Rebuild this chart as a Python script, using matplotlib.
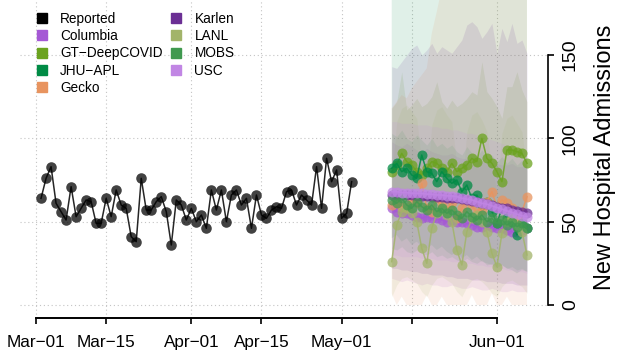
import numpy as np
import pandas as pd
import matplotlib
matplotlib.use("Agg")
import matplotlib.pyplot as plt
import matplotlib.dates as mdates
from matplotlib.lines import Line2D

plt.rcParams['font.family'] = ['Liberation Sans', 'DejaVu Sans']

# reported daily admissions, Mar 02 - May 03
reported_start = '2021-03-02'
reported = [64, 76, 83, 61, 56, 51, 71, 53, 58, 63, 62, 49, 49, 64, 53, 69,
            60, 58, 41, 38, 76, 57, 57, 62, 65, 56, 36, 63, 60, 51, 58, 50,
            54, 46, 69, 57, 69, 50, 66, 69, 60, 64, 46, 66, 54, 52, 57, 59,
            58, 68, 69, 60, 66, 63, 60, 83, 58, 88, 74, 81, 52, 55, 74]

# 28 day forecasts starting May 11
forecast_start = '2021-05-11'
models = ['Columbia', 'GT\u2212DeepCOVID', 'JHU\u2212APL', 'Gecko',
          'Karlen', 'LANL', 'MOBS', 'USC']
colors = ['#A558D5', '#6BA31F', '#008B45', '#E8945F',
          '#6B2F94', '#A2B46A', '#40994F', '#C186E4']

columbia = [58, 56, 55, 55, 54, 53, 52, 53, 52, 52, 51, 50, 51, 50,
            50, 49, 48, 47, 47, 48, 47, 46, 46, 45, 44, 44, 45, 46]
columbia_lo = [16, 15, 14, 15, 14, 13, 12, 13, 12, 12, 11, 11, 12, 11,
               10, 10, 11, 10, 9, 9, 10, 9, 8, 8, 9, 8, 8, 8]
columbia_hi = [98, 96, 95, 97, 95, 93, 92, 94, 92, 91, 90, 90, 91, 89,
               88, 88, 89, 87, 86, 86, 87, 85, 84, 84, 85, 83, 83, 84]

gt = [80, 84, 91, 86, 84, 80, 78, 82, 86, 85, 82, 80, 85, 80,
      82, 84, 88, 86, 100, 88, 85, 80, 74, 93, 93, 92, 91, 85]
gt_lo = [52, 55, 60, 57, 55, 52, 50, 54, 57, 56, 54, 52, 56, 52,
         54, 55, 58, 57, 62, 58, 56, 52, 48, 60, 60, 59, 59, 55]
gt_hi = [118, 122, 140, 117, 120, 124, 119, 121, 125, 134, 122, 118, 123, 119,
         121, 124, 128, 126, 146, 128, 124, 119, 112, 131, 131, 140, 129, 122]

jhu = [82, 85, 80, 82, 78, 76, 90, 80, 79, 74, 80, 76, 73, 75,
       68, 72, 64, 66, 60, 62, 56, 49, 58, 52, 50, 42, 48, 46]
jhu_lo = [40, 42, 38, 40, 36, 38, 35, 34, 36, 33, 35, 32, 30, 32,
          28, 30, 27, 29, 26, 25, 24, 22, 24, 22, 21, 19, 21, 20]
jhu_hi = [231, 233, 236, 238, 240, 242, 245, 247, 249, 251, 254, 256, 258, 260,
          263, 265, 267, 269, 272, 274, 276, 278, 281, 283, 285, 287, 290, 292]

gecko = [60, 62, 59, 58, 63, 61, 73, 58, 56, 64, 60, 57, 62, 52,
         58, 63, 60, 55, 57, 62, 68, 59, 63, 61, 58, 52, 56, 65]
gecko_lo = [7, 0, 5, 0, 0, 0, 0, 6, 0, 0, 5, 0, 0, 0,
            0, 0, 6, 0, 0, 0, 7, 0, 0, 5, 0, 0, 0, 0]
gecko_hi = [118, 122, 126, 124, 130, 134, 138, 142, 163, 176, 190, 205, 210, 215,
            220, 225, 230, 232, 236, 240, 242, 245, 248, 250, 252, 255, 258, 260]

karlen = [66, 66, 66, 66, 66, 65.5, 65.5, 65.5, 65, 65, 65, 64.5, 64, 64,
          63.5, 63, 62.5, 62, 61, 60.5, 60, 59, 58.5, 58, 57, 56.5, 56, 55]
karlen_lo = [22, 22, 21, 21, 20, 20, 19, 19, 18, 18, 18, 17, 17, 16,
             16, 16, 15, 15, 15, 14, 14, 14, 13, 13, 13, 12, 12, 12]
karlen_hi = [143, 142, 146, 150, 154, 156, 150, 153, 157, 151, 155, 153, 151, 155,
             159, 168, 170, 167, 160, 164, 169, 151, 166, 158, 169, 157, 159, 151]

lanl = [26, 48, 56, 58, 55, 50, 34, 25, 46, 55, 57, 54, 50, 33,
        24, 44, 52, 54, 50, 44, 31, 23, 43, 50, 52, 48, 44, 30]
lanl_lo = [5, 12, 16, 17, 15, 13, 8, 5, 12, 16, 17, 15, 13, 8,
           5, 11, 15, 16, 14, 11, 7, 5, 11, 14, 15, 13, 11, 7]
lanl_hi = [75, 110, 118, 120, 116, 112, 85, 72, 108, 117, 119, 114, 110, 84,
           70, 104, 114, 116, 111, 104, 82, 68, 103, 112, 114, 109, 104, 80]

mobs = [63, 61, 64, 60, 58, 62, 59, 57, 60, 56, 58, 55, 57, 54,
        52, 56, 53, 51, 54, 50, 52, 49, 51, 48, 50, 47, 49, 46]
mobs_lo = [34, 33, 35, 32, 31, 33, 31, 30, 32, 29, 30, 28, 29, 27,
           26, 28, 26, 25, 27, 24, 25, 23, 24, 22, 23, 21, 22, 20]
mobs_hi = [103, 101, 105, 100, 98, 102, 99, 96, 100, 95, 97, 94, 96, 92,
           90, 95, 91, 89, 93, 88, 90, 86, 89, 85, 88, 84, 87, 83]

usc = [68, 68, 67.5, 67.5, 67, 67, 67, 66.5, 66.5, 66, 66, 65.5, 65.5, 65,
       64, 63.5, 63, 62, 61, 60.5, 59.5, 58.5, 57.5, 56.5, 55.5, 54.5, 53.5, 53]
usc_lo = [30, 30, 29, 29, 29, 29, 28, 28, 28, 27, 27, 27, 26, 26,
          26, 25, 25, 24, 24, 23, 23, 22, 22, 21, 21, 20, 20, 19]
usc_hi = [110, 110, 109, 109, 109, 108, 108, 108, 107, 107, 106, 106, 105, 105,
          104, 103, 103, 102, 101, 100, 99, 98, 97, 96, 95, 94, 93, 92]

points = [columbia, gt, jhu, gecko, karlen, lanl, mobs, usc]
lows = [columbia_lo, gt_lo, jhu_lo, gecko_lo, karlen_lo, lanl_lo, mobs_lo, usc_lo]
highs = [columbia_hi, gt_hi, jhu_hi, gecko_hi, karlen_hi, lanl_hi, mobs_hi, usc_hi]

tick_dates = ['2021-03-01', '2021-03-15', '2021-04-01', '2021-04-15',
              '2021-05-01', '2021-05-15', '2021-06-01']
tick_labels = ['Mar\u221201', 'Mar\u221215', 'Apr\u221201', 'Apr\u221215',
               'May\u221201', '', 'Jun\u221201']
y_ticks = [0, 50, 100, 150]

rep_dates = mdates.date2num(pd.date_range(reported_start, periods=len(reported), freq='D'))
fc_dates = mdates.date2num(pd.date_range(forecast_start, periods=len(columbia), freq='D'))
ticks = mdates.date2num(pd.to_datetime(tick_dates))

fig = plt.figure(figsize=(6.24, 3.51), dpi=100)
ax = fig.add_axes([20 / 624, 1 - 318 / 351, 528 / 624, 318 / 351])

# intervals first, then the point forecasts on top
for lo, hi, c in zip(lows, highs, colors):
    ax.fill_between(fc_dates, lo, hi, color=c, alpha=0.12, lw=0, zorder=1)

ax.plot(rep_dates, reported, color='black', lw=1.1, alpha=0.85, zorder=3)
ax.plot(rep_dates, reported, 'o', ms=7.6, color='black', alpha=0.74,
        mec='none', zorder=3)
for vals, c in zip(points, colors):
    ax.plot(fc_dates, vals, color=c, lw=1.1, alpha=0.85, zorder=3)
    ax.plot(fc_dates, vals, 'o', ms=7.2, color=c, alpha=0.75,
            mec='none', zorder=3)

x0 = ticks[0]
ax.set_xlim(x0 - 3.2, x0 + 102.2)
ax.set_ylim(-7.8, 183)

grid_kw = dict(color='#c4c4c4', lw=0.8, ls=(0, (1, 2.5)), zorder=0)
for t in ticks:
    ax.axvline(t, **grid_kw)
for v in y_ticks:
    ax.axhline(v, **grid_kw)

ax.set_xticks(ticks)
ax.set_xticklabels(tick_labels, fontsize=12.3)
ax.yaxis.tick_right()
ax.set_yticks(y_ticks)
ax.set_yticklabels([str(v) for v in y_ticks], fontsize=14, rotation=90,
                   va='center', ha='left')
ax.tick_params(axis='x', length=4, width=1.2, pad=8)
ax.tick_params(axis='y', length=4, width=1.2, pad=6)

for side in ['left', 'top']:
    ax.spines[side].set_visible(False)
ax.spines['bottom'].set_bounds(ticks[0], ticks[-1])
ax.spines['bottom'].set_linewidth(1.4)
ax.spines['right'].set_bounds(0, 150)
ax.spines['right'].set_linewidth(1.2)

fig.text(605 / 624, 1 - 157 / 351, 'New Hospital Admissions', rotation=90,
         ha='center', va='center', fontsize=17)

handles = [Line2D([], [], ls='none', marker='s', ms=7.7, color='black',
                  label='Reported')]
for name, c in zip(models, colors):
    handles.append(Line2D([], [], ls='none', marker='s', ms=7.7, color=c,
                          label=name))
fig.legend(handles=handles, ncol=2, loc='upper left',
           bbox_to_anchor=(28 / 624, 1 - 5 / 351), frameon=False,
           fontsize=9.8, borderpad=0, handlelength=1.0, handletextpad=0.85,
           labelspacing=0.24, columnspacing=0.5)

fig.savefig('out.png', dpi=100)
